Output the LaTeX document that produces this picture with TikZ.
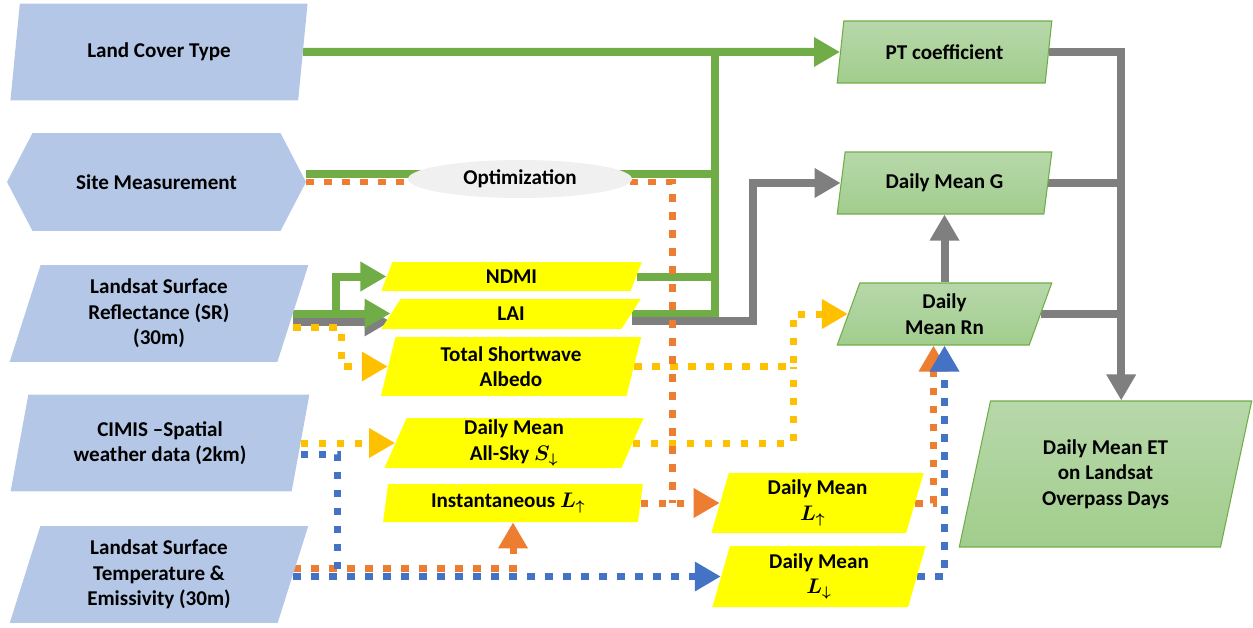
\documentclass[tikz,border=0pt]{standalone}
\usepackage{fontspec}
\setmainfont{Carlito}
\usetikzlibrary{shapes.geometric,shapes.symbols,arrows.meta,calc,backgrounds}

\definecolor{inblue}{HTML}{B4C7E7}
\definecolor{midyel}{HTML}{FFFF00}
\definecolor{outtop}{HTML}{B7D8AA}
\definecolor{outbot}{HTML}{A2CD8D}
\definecolor{outedge}{HTML}{70AD47}
\definecolor{lgreen}{HTML}{70AD47}
\definecolor{lgray}{HTML}{7F7F7F}
\definecolor{lorange}{HTML}{ED7D31}
\definecolor{lgold}{HTML}{FFC000}
\definecolor{lblue}{HTML}{4472C4}
\definecolor{optfill}{HTML}{F0F0F0}

\tikzset{
  anybox/.style={trapezium, trapezium stretches=true, inner sep=0pt, align=center,
    font={\fontsize{12}{14.5}\selectfont\bfseries}},
  inbox/.style={anybox, fill=inblue, minimum width=5.98cm, minimum height=1.94cm,
    trapezium left angle=75, trapezium right angle=105},
  midbox/.style={anybox, fill=midyel},
  outbox/.style={anybox, draw=outedge, line width=0.6pt, top color=outtop, bottom color=outbot,
    trapezium left angle=75.5, trapezium right angle=104.5},
  gline/.style={draw=lgreen, line width=0.16cm},
  grline/.style={draw=lgray, line width=0.16cm},
  dotline/.style={line width=0.14cm, dash pattern=on 0.15cm off 0.21cm},
}

\begin{document}
\begin{tikzpicture}[x=0.02cm, y=-0.02cm, >={Triangle[length=0.52cm,width=0.56cm]}]

    \useasboundingbox (0,0) rectangle (1253,628);

    % inputs
    \node[inbox] (lct) at (159,52) {Land Cover Type};
    \node[anybox, shape=signal, signal to=west and east, signal pointer angle=125,
      fill=inblue, minimum width=5.98cm, minimum height=1.96cm] (site) at (156.5,182) {Site Measurement};
    \node[inbox] (sr) at (159,313.5) {Landsat Surface\\Reflectance (SR)\\(30m)};
    \node[inbox] (cimis) at (160,443) {CIMIS –Spatial\\weather data (2km)};
    \node[inbox] (lst) at (159,574.5) {Landsat Surface\\Temperature \&\\Emissivity (30m)};

    % optimization
    \node[ellipse, fill=optfill, minimum width=4.48cm, minimum height=0.76cm, inner sep=0pt,
      font={\fontsize{12}{14.5}\selectfont\bfseries}] (optim) at (520,179) {Optimization};

    % intermediates
    \node[midbox, minimum width=5.22cm, minimum height=0.58cm,
      trapezium left angle=80, trapezium right angle=100] (ndmi) at (511.5,276.5) {NDMI};
    \node[midbox, minimum width=5.2cm, minimum height=0.6cm,
      trapezium left angle=80, trapezium right angle=100] (lai) at (511,314) {LAI};
    \node[midbox, minimum width=5.24cm, minimum height=1.18cm,
      trapezium left angle=77.5, trapezium right angle=102.5] (albedo) at (511,366.5) {Total Shortwave\\Albedo};
    \node[midbox, minimum width=5.2cm, minimum height=1cm,
      trapezium left angle=77.5, trapezium right angle=102.5] (sdown) at (514,443) {Daily Mean\\All-Sky {\boldmath$S_{\downarrow}$}};
    \node[midbox, minimum width=5.2cm, minimum height=0.76cm,
      trapezium left angle=81, trapezium right angle=99] (linst) at (513,503) {Instantaneous {\boldmath$L_{\uparrow}$}};
    \node[midbox, minimum width=4.26cm, minimum height=1.2cm,
      trapezium left angle=78, trapezium right angle=102] (lup) at (817.5,503) {Daily Mean\\{\boldmath$L_{\uparrow}$}};
    \node[midbox, minimum width=4.28cm, minimum height=1.22cm,
      trapezium left angle=78, trapezium right angle=102] (ldown) at (819,576.5) {Daily Mean\\{\boldmath$L_{\downarrow}$}};

    % outputs
    \node[outbox, minimum width=4.3cm, minimum height=1.24cm] (pt) at (944.5,52) {PT coefficient};
    \node[outbox, minimum width=4.3cm, minimum height=1.24cm] (gmean) at (944.5,183) {Daily Mean G};
    \node[outbox, minimum width=4.3cm, minimum height=1.24cm] (rn) at (944.5,314) {Daily\\Mean Rn};
    \node[outbox, minimum width=5.9cm, minimum height=2.92cm,
      trapezium left angle=76, trapezium right angle=104] (et) at (1105.5,474) {Daily Mean ET\\on Landsat\\Overpass Days};

    % helper points
    \coordinate (gbus) at (715,52);
    \coordinate (gcorner) at (753,0);
    \coordinate (goldin) at (341,0);
    \coordinate (goldcol) at (793,0);
    \coordinate (bluecol) at (337,0);
    \coordinate (orcol) at (672,0);
    \coordinate (sitegr) at ($(site.east)+(0,-8)$);
    \coordinate (srgray) at ($(sr.east)+(0,8)$);
    \coordinate (srsplit) at ($(sr.east)+(43,0)$);
    \coordinate (srgold) at ($(sr.east)+(0,14)$);
    \coordinate (laigray) at ($(lai.east)+(0,7)$);
    \coordinate (cimisblue) at ($(cimis.east)+(0,11)$);
    \coordinate (lstorange) at ($(lst.east)+(0,-6)$);
    \coordinate (rnin) at (rn.center |- rn.bottom left corner);
    \coordinate (rnor) at ($(rnin)+(-11,0)$);
    \coordinate (ettop) at ($(et.top left corner)!0.5!(et.top right corner)$);

    \begin{pgfonlayer}{background}
    % green
    \draw[gline,->] (lct.east) -- (pt.west);
    \draw[gline] (lai.east) -| (gbus);
    \draw[gline] (ndmi.east) -- (ndmi.east -| gbus);
    \draw[gline] (sitegr) -- (sitegr -| gbus);
    \draw[grline,->] (srgray) -- (srgray -| lai.west);
    \draw[gline,->] (sr.east) -- (sr.east -| lai.west);
    \draw[gline,->] (srsplit) |- (ndmi.west);

    % gray
    \draw[grline,->] (laigray) -| (gcorner |- gmean.west) -- (gmean.west);
    \draw[grline,->] (rn.center |- rn.top left corner) -- (gmean.center |- gmean.bottom left corner);
    \draw[grline,->] (pt.east) -| (ettop);
    \draw[grline] (gmean.east) -- (gmean.east -| ettop);
    \draw[grline] (rn.east) -- (rn.east -| ettop);

    % gold
    \draw[dotline,lgold,->] (srgold) -| (goldin |- albedo.west) -- (albedo.west);
    \draw[dotline,lgold,->] (albedo.east) -| (goldcol |- rn.west) -- (rn.west);
    \draw[dotline,lgold] (sdown.east) -| (goldcol |- albedo.east);
    \draw[dotline,lgold,->] (cimis.east) -- (cimis.east -| sdown.west);

    % orange
    \draw[dotline,lorange] (site.east) -| (orcol |- lup.west);
    \draw[dotline,lorange,->] (lstorange) -| (linst.center |- linst.bottom left corner);
    \draw[dotline,lorange,->] (linst.east) -- (linst.east -| lup.west);
    \draw[dotline,lorange,->] (lup.east) -| (rnor);

    % blue
    \draw[dotline,lblue] (cimisblue) -| (bluecol |- ldown.west);
    \draw[dotline,lblue,->] (lst.east |- ldown.west) -- (ldown.west);
    \draw[dotline,lblue,->] (ldown.east) -| (rnin);
    \end{pgfonlayer}

\end{tikzpicture}
\end{document}
